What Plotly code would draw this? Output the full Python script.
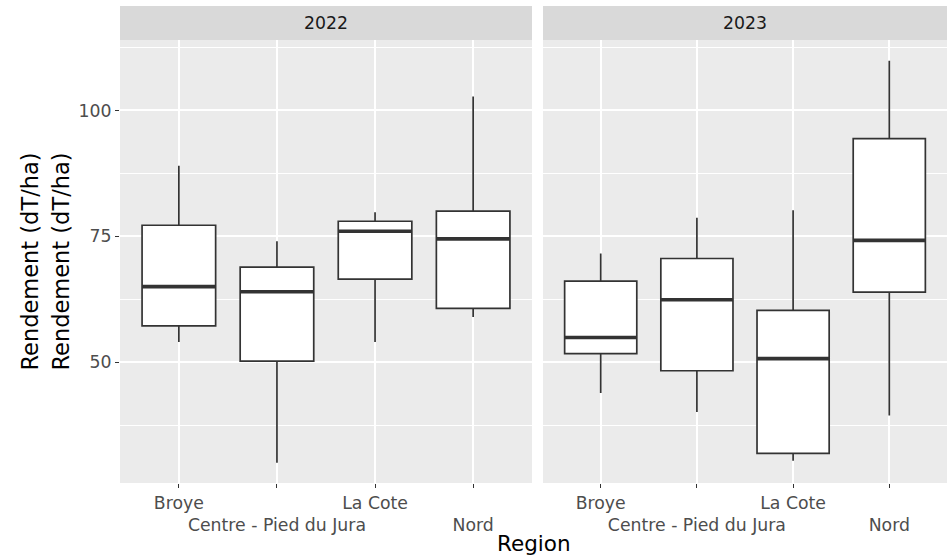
import plotly.graph_objects as go

# Regions and facet years
regions = ["Broye", "Centre - Pied du Jura", "La Cote", "Nord"]
years = ["2022", "2023"]

# Box statistics per year (order follows `regions`)
low_2022 = [54.0, 30.0, 54.0, 59.0]
q1_2022 = [57.2, 50.2, 66.5, 60.7]
med_2022 = [65.0, 64.0, 76.0, 74.5]
q3_2022 = [77.2, 68.9, 78.0, 80.0]
high_2022 = [89.0, 74.0, 79.8, 102.8]

low_2023 = [43.9, 40.1, 30.4, 39.4]
q1_2023 = [51.7, 48.3, 31.9, 63.9]
med_2023 = [54.9, 62.4, 50.7, 74.2]
q3_2023 = [66.1, 70.6, 60.3, 94.4]
high_2023 = [71.6, 78.7, 80.2, 109.9]

stats = {
    "2022": (low_2022, q1_2022, med_2022, q3_2022, high_2022),
    "2023": (low_2023, q1_2023, med_2023, q3_2023, high_2023),
}

# Alternate tick labels on two rows
tick_text = [r if i % 2 == 0 else "<br>" + r for i, r in enumerate(regions)]
positions = list(range(1, len(regions) + 1))
box_w = 0.75

LINE = "#333333"
FONT = "DejaVu Sans"
SMALL = 17.3
BIG = 21.5

fig = go.Figure()
for k, yr in enumerate(years):
    low, q1, med, q3, high = stats[yr]
    xa = "x" if k == 0 else "x2"
    ya = "y" if k == 0 else "y2"
    fig.add_trace(go.Box(
        x=positions, lowerfence=low, q1=q1, median=med, q3=q3, upperfence=high,
        width=box_w, fillcolor="white", line=dict(color=LINE, width=1.7),
        whiskerwidth=0, boxpoints=False, xaxis=xa, yaxis=ya, showlegend=False,
    ))
    mx, my = [], []
    for p, m in zip(positions, med):
        mx += [p - box_w / 2, p + box_w / 2, None]
        my += [m, m, None]
    fig.add_trace(go.Scatter(
        x=mx, y=my, mode="lines", line=dict(color=LINE, width=3.6),
        xaxis=xa, yaxis=ya, showlegend=False, hoverinfo="skip",
    ))

W, H = 947, 556
ML, MR, MT, MB = 120, 0, 40, 73
plot_w = W - ML - MR
plot_h = H - MT - MB
gap_px = 11
split = 412 / plot_w

xcommon = dict(
    range=[0.4, 4.6], tickmode="array", tickvals=positions, ticktext=tick_text,
    tickangle=0,
    showgrid=True, gridcolor="white", gridwidth=1.8, zeroline=False,
    ticks="outside", ticklen=4, tickcolor=LINE, tickwidth=1.2,
    tickfont=dict(family=FONT, size=SMALL, color="#4d4d4d"), showline=False,
)
ycommon = dict(
    range=[26.0, 114.0], tickmode="array", tickvals=[50, 75, 100],
    showgrid=True, gridcolor="white", gridwidth=1.8, zeroline=False,
    minor=dict(dtick=12.5, tick0=0, showgrid=True, gridcolor="white", gridwidth=0.8),
    ticks="outside", ticklen=4, tickcolor=LINE, tickwidth=1.2,
    tickfont=dict(family=FONT, size=SMALL, color="#4d4d4d"), showline=False,
)

fig.update_layout(
    width=W, height=H,
    margin=dict(l=ML, r=MR, t=MT, b=MB, autoexpand=False),
    paper_bgcolor="white", plot_bgcolor="#ebebeb",
    font=dict(family=FONT),
    xaxis=dict(domain=[0, split], anchor="y", **xcommon),
    xaxis2=dict(domain=[split + gap_px / plot_w, 1], anchor="y2", **xcommon),
    yaxis=dict(domain=[0, 1], anchor="x", **ycommon),
    yaxis2=dict(domain=[0, 1], anchor="x2", showticklabels=False,
                **{k: v for k, v in ycommon.items() if k not in ("tickfont", "ticks")},
                ticks=""),
)

# Facet strips
strip_top = 1 + 34 / plot_h
domains = [[0, split], [split + gap_px / plot_w, 1]]
for yr, (d0, d1) in zip(years, domains):
    fig.add_shape(type="rect", xref="paper", yref="paper", x0=d0, x1=d1,
                  y0=1, y1=strip_top, fillcolor="#d9d9d9", line=dict(width=0),
                  layer="below")
    fig.add_annotation(text=yr, xref="paper", yref="paper", x=(d0 + d1) / 2,
                       y=(1 + strip_top) / 2, xanchor="center", yanchor="middle",
                       showarrow=False,
                       font=dict(family=FONT, size=SMALL, color="#1a1a1a"))

# Axis titles
fig.add_annotation(text="Region", xref="paper", yref="paper", x=0.5,
                   y=-60 / plot_h, xanchor="center", yanchor="middle",
                   showarrow=False, font=dict(family=FONT, size=BIG, color="black"))
for px in (29, 60):
    fig.add_annotation(text="Rendement (dT/ha)", xref="paper", yref="paper",
                       x=(px - ML) / plot_w, y=(483 - 261.5) / plot_h, textangle=-90,
                       xanchor="center", yanchor="middle",
                       showarrow=False, font=dict(family=FONT, size=22.5, color="black"))

fig.write_html("out.html")
